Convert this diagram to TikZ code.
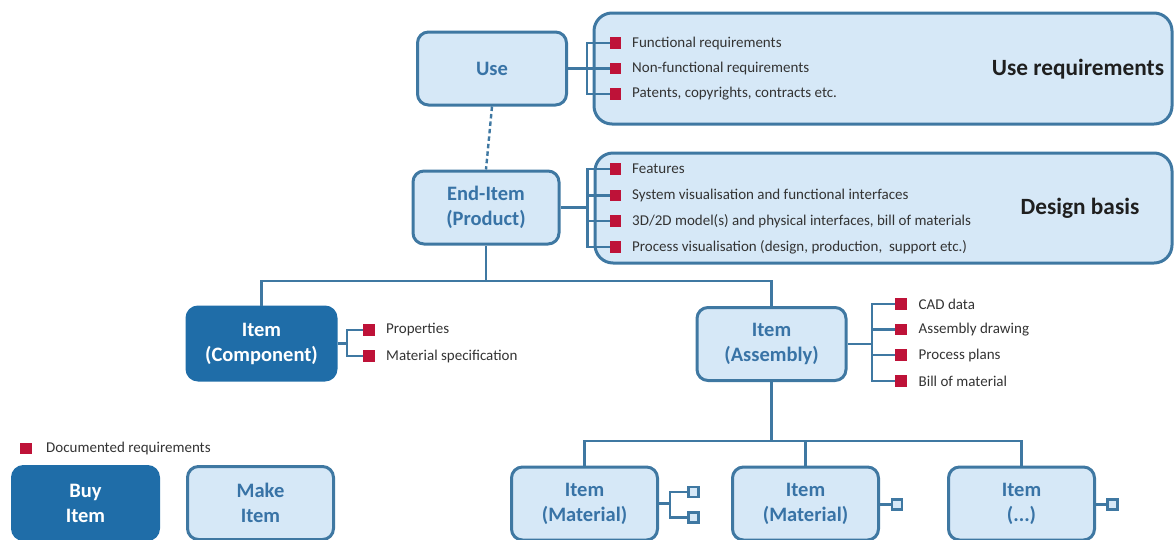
\documentclass[tikz,border=0pt]{standalone}
\usepackage{fontspec}
\setmainfont{Carlito}
\definecolor{boxline}{HTML}{3F78A2}
\definecolor{boxfill}{HTML}{D6E8F7}
\definecolor{darkfill}{HTML}{1F6DA8}
\definecolor{boxtext}{HTML}{3873A6}
\definecolor{bulletred}{HTML}{BE1238}
\definecolor{bodytext}{HTML}{333333}
\tikzset{
  itembox/.style={draw=boxline, fill=boxfill, line width=3pt, rounded corners=11pt,
    minimum width=146pt, minimum height=73pt, inner sep=0pt, align=center,
    text=boxtext, font=\bfseries\fontsize{20.5}{25}\selectfont},
  darkbox/.style={itembox, draw=darkfill, fill=darkfill, text=white},
  groupbox/.style={draw=boxline, fill=boxfill, line width=3pt, rounded corners=18pt,
    inner sep=0pt},
  reqmark/.style={fill=bulletred, minimum size=11.5pt, inner sep=0pt},
  openmark/.style={draw=boxline, fill=boxfill, line width=2.8pt, minimum size=10pt, inner sep=0pt},
  reqtext/.style={anchor=west, inner sep=0pt, text=bodytext, font=\fontsize{15}{17}\selectfont},
  grouptitle/.style={inner sep=0pt, text=black!88, font=\bfseries\fontsize{23.3}{26}\selectfont},
  conn/.style={draw=boxline, line width=2.4pt},
  link/.style={draw=boxline, line width=2.4pt, dash pattern=on 4.5pt off 3pt}
}
\begin{document}
\begin{tikzpicture}[x=1pt,y=-1pt]
\useasboundingbox (0,0) rectangle (1174,539);

% ---------- group panels ----------
\node[groupbox, minimum width=578pt, minimum height=111pt] (usegrp) at (883,68.5) {};
\node[groupbox, minimum width=577pt, minimum height=110pt] (desgrp) at (883.5,208) {};
\node[grouptitle] (usetitle) at (1078,69) {Use requirements};
\node[grouptitle] (destitle) at (1080,208) {Design basis};

% ---------- main items ----------
\node[itembox, minimum width=149pt] (use) at (492,68.5) {Use};
\node[itembox] (endi) at (486,207.5) {End-Item\\(Product)};
\node[darkbox, minimum width=149pt] (comp) at (261.5,343.5) {Item\\(Component)};
\node[itembox, minimum width=149pt] (asm) at (771.5,344) {Item\\(Assembly)};
\node[itembox] (mat1) at (584.5,503.5) {Item\\(Material)};
\node[itembox] (mat2) at (805.5,503.5) {Item\\(Material)};
\node[itembox] (etc) at (1021.5,503.5) {Item\\(...)};
\node[darkbox] (buy) at (85.5,503) {Buy\\Item};
\node[itembox] (make) at (260.5,503) {Make\\Item};

% ---------- use requirements ----------
\node[reqmark] (u1) at (615.5,43) {};
\node[reqmark] (u2) at (615.5,68.5) {};
\node[reqmark] (u3) at (615.5,94) {};
\node[reqtext] at (632,43) {Functional requirements};
\node[reqtext] at (632,68.5) {Non-functional requirements};
\node[reqtext] at (632,94) {Patents, copyrights, contracts etc.};
\coordinate (ub) at (587,68.5);
\draw[conn] (use.east) -- (ub);
\draw[conn] (u1.west) -| (ub) |- (u3.west);
\draw[conn] (ub) -- (u2.west);

% ---------- design basis ----------
\node[reqmark] (d1) at (615.5,169) {};
\node[reqmark] (d2) at (615.5,195.5) {};
\node[reqmark] (d3) at (615.5,221) {};
\node[reqmark] (d4) at (615.5,247) {};
\node[reqtext] at (632,169) {Features};
\node[reqtext] at (632,195.5) {System visualisation and functional interfaces};
\node[reqtext] at (632,221) {3D/2D model(s) and physical interfaces, bill of materials};
\node[reqtext] at (632,247) {Process visualisation (design, production, \ support etc.)};
\coordinate (db) at (587.5,207.5);
\draw[conn] (endi.east) -- (db);
\draw[conn] (d1.west) -| (db) |- (d4.west);
\draw[conn] (db |- d2) -- (d2.west);
\draw[conn] (db |- d3) -- (d3.west);

% ---------- use to end item ----------
\draw[link] (use.south) -- (endi.north);

% ---------- first level of the tree ----------
\coordinate (t1) at (486,281);
\draw[conn] (endi.south) -- (t1);
\draw[conn] (comp.north) |- (t1) -| (asm.north);

% ---------- component requirements ----------
\node[reqmark] (c1) at (369,330) {};
\node[reqmark] (c2) at (369,356) {};
\node[reqtext] at (386,330) {Properties};
\node[reqtext] at (386,356) {Material specification};
\coordinate (cb) at (347,343.5);
\draw[conn] (comp.east) -- (cb);
\draw[conn] (c1.west) -| (cb) |- (c2.west);

% ---------- assembly requirements ----------
\node[reqmark] (a1) at (901,304) {};
\node[reqmark] (a2) at (901,329.5) {};
\node[reqmark] (a3) at (901,355) {};
\node[reqmark] (a4) at (901,381) {};
\node[reqtext] at (918.5,304) {CAD data};
\node[reqtext] at (918.5,329.5) {Assembly drawing};
\node[reqtext] at (918.5,355) {Process plans};
\node[reqtext] at (918.5,381) {Bill of material};
\coordinate (ab) at (872,344);
\draw[conn] (asm.east) -- (ab);
\draw[conn] (a1.west) -| (ab) |- (a4.west);
\draw[conn] (ab |- a2) -- (a2.west);
\draw[conn] (ab |- a3) -- (a3.west);

% ---------- second level of the tree ----------
\coordinate (t2) at (771.5,441);
\draw[conn] (asm.south) -- (t2);
\draw[conn] (mat1.north) |- (t2) -| (etc.north);
\draw[conn] (mat2.north) -- (mat2.north |- t2);

% ---------- open requirement marks ----------
\node[openmark] (m1a) at (693.5,492) {};
\node[openmark] (m1b) at (693.5,517.5) {};
\coordinate (mb) at (670,503.5);
\draw[conn] (mat1.east) -- (mb);
\draw[conn] (m1a.west) -| (mb) |- (m1b.west);
\node[openmark] (m2a) at (897,504.5) {};
\draw[conn] (mat2.east |- m2a) -- (m2a.west);
\node[openmark] (m3a) at (1112.5,504.5) {};
\draw[conn] (etc.east |- m3a) -- (m3a.west);

% ---------- legend ----------
\node[reqmark] (legmark) at (26,448.5) {};
\node[reqtext] at (46,448.5) {Documented requirements};
\end{tikzpicture}
\end{document}
